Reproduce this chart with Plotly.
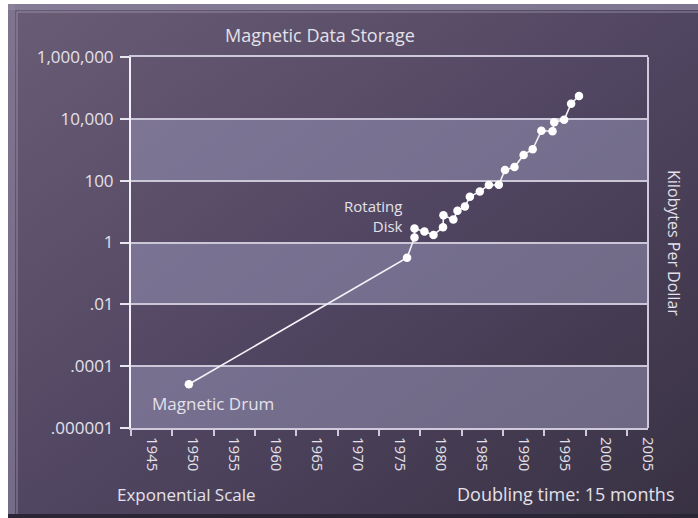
import base64
import math
import plotly.graph_objects as go

# ---- data ----
years = [1949.5, 1975.9, 1976.8, 1976.8, 1978.0, 1979.1, 1980.25, 1980.3, 1981.5,
         1982.0, 1982.9, 1983.5, 1984.7, 1985.8, 1987.0, 1987.75, 1988.9, 1990.0,
         1991.1, 1992.15, 1993.5, 1993.7, 1994.9, 1995.75, 1996.7]
kb_per_dollar = [2.6e-5, 0.32, 1.46, 2.83, 2.26, 1.76, 3.1, 7.6, 5.5,
                 10.7, 14.6, 30, 45, 72, 74, 221, 276, 680,
                 1040, 4120, 3980, 7800, 9300, 31000, 55000]

y_tick_vals = [1e-6, 1e-4, 1e-2, 1, 1e2, 1e4, 1e6]
y_tick_text = [".000001", ".0001", ".01", "1", "100", "10,000", "1,000,000"]
x_tick_vals = list(range(1945, 2006, 5))
x_tick_text = [str(v) for v in x_tick_vals]
band_pairs = [(1e-6, 1e-4), (1e-2, 1), (1e2, 1e4)]

FONT = "Open Sans"
TXT = "#e4e1ea"

# ---- background gradient frame as an SVG image ----
W, H = 690, 514
svg = f"""<svg xmlns='http://www.w3.org/2000/svg' width='{W}' height='{H}' viewBox='0 0 {W} {H}' preserveAspectRatio='none'>
<defs><linearGradient id='g' x1='0' y1='0' x2='1' y2='1'>
<stop offset='0' stop-color='#6a5c75'/>
<stop offset='0.5' stop-color='#514662'/>
<stop offset='1' stop-color='#383142'/>
</linearGradient></defs>
<rect x='0' y='0' width='{W}' height='{H}' fill='url(#g)'/>
<rect x='0' y='0' width='{W}' height='6' fill='#8d85a0' opacity='0.75'/>
<rect x='0' y='0' width='7' height='{H}' fill='#8d85a0' opacity='0.6'/>
<line x1='9' y1='8' x2='{W}' y2='8' stroke='#a9a2bb' stroke-width='1' opacity='0.7'/>
<line x1='9' y1='8' x2='9' y2='{H}' stroke='#a9a2bb' stroke-width='1' opacity='0.7'/>
<rect x='0' y='{H-4}' width='{W}' height='4' fill='#2a2636'/>
</svg>"""
svg_uri = "data:image/svg+xml;base64," + base64.b64encode(svg.encode()).decode()

fig = go.Figure()

fig.add_trace(go.Scatter(
    x=years, y=kb_per_dollar, mode="lines+markers",
    line=dict(color="#f4f2f7", width=1.6),
    marker=dict(color="#ffffff", size=8.5),
    showlegend=False, hoverinfo="x+y",
))

shapes = []
for lo, hi in band_pairs:
    shapes.append(dict(type="rect", xref="paper", yref="y", x0=0, x1=1, y0=lo, y1=hi,
                       fillcolor="rgba(150,146,180,0.55)", line=dict(width=0), layer="below"))

# plot area in pixels: x 131..648, y 57..428
L, R, T, B = 131, 50, 57, 90
pw, ph = 698 - L - R, 518 - T - B

def px(xp):
    return (xp - L) / pw

def py(yp):
    return (518 - B - yp) / ph

annotations = [
    dict(x=years[3], y=math.log10(kb_per_dollar[3]), xref="x", yref="y",
         text="Rotating<br>Disk",
         showarrow=False, xanchor="right", yanchor="middle", align="right",
         xshift=-10, yshift=13, font=dict(family=FONT, size=15, color=TXT)),
    dict(x=years[0], y=math.log10(kb_per_dollar[0]), xref="x", yref="y",
         text="Magnetic Drum",
         showarrow=False, xanchor="center", yanchor="middle",
         xshift=24, yshift=-19, font=dict(family=FONT, size=17, color=TXT)),
    dict(x=px(674), y=py(243), xref="paper", yref="paper", text="Kilobytes Per Dollar",
         showarrow=False, textangle=90, xanchor="center", yanchor="middle",
         font=dict(family=FONT, size=16, color=TXT)),
    dict(x=px(186), y=py(494), xref="paper", yref="paper", text="Exponential Scale",
         showarrow=False, xanchor="center", yanchor="middle",
         font=dict(family=FONT, size=17, color=TXT)),
    dict(x=px(676), y=py(494), xref="paper", yref="paper", text="Doubling time: 15 months",
         showarrow=False, xanchor="right", yanchor="middle",
         font=dict(family=FONT, size=18, color=TXT)),
]

fig.update_layout(
    width=698, height=518,
    margin=dict(l=L, r=R, t=T, b=B, pad=0),
    paper_bgcolor="#ffffff", plot_bgcolor="rgba(0,0,0,0)",
    title=dict(text="Magnetic Data Storage", x=px(368), xanchor="center",
               y=1 - 36 / 518, yanchor="middle",
               font=dict(family=FONT, size=18, color=TXT)),
    images=[dict(source=svg_uri, xref="paper", yref="paper",
                 x=px(8), y=py(4), sizex=W / pw, sizey=H / ph,
                 xanchor="left", yanchor="top", sizing="stretch", layer="below")],
    shapes=shapes,
    annotations=annotations,
    xaxis=dict(range=[1942.5, 2005.05], tickmode="array", tickvals=x_tick_vals,
               ticktext=x_tick_text, tickangle=90, ticks="outside", ticklen=0,
               tickfont=dict(family=FONT, size=15, color=TXT),
               showgrid=False, zeroline=False, showline=True, linecolor="#cfcadb",
               linewidth=2, mirror=True, ticklabelstandoff=4,
               minor=dict(tick0=1947.5, dtick=5, ticks="outside", ticklen=6,
                          tickwidth=2, tickcolor="#cfcadb", showgrid=False)),
    yaxis=dict(type="log", range=[-6, 6], tickmode="array", tickvals=y_tick_vals,
               ticktext=y_tick_text, ticks="outside", ticklen=9, tickwidth=2,
               tickcolor="#e8e6ee",
               tickfont=dict(family=FONT, size=17, color=TXT),
               showgrid=True, gridcolor="#cbc6d8", gridwidth=2, zeroline=False,
               showline=True, linecolor="#f2f0f6", linewidth=2, mirror=False,
               ticklabelstandoff=3),
)

# right border of the plot box
fig.add_shape(type="line", xref="paper", yref="paper", x0=1, x1=1, y0=0, y1=1,
              line=dict(color="#cfcadb", width=2))

fig.write_html("out.html", config={"displayModeBar": False},
               post_script="document.body.style.margin='0';")
